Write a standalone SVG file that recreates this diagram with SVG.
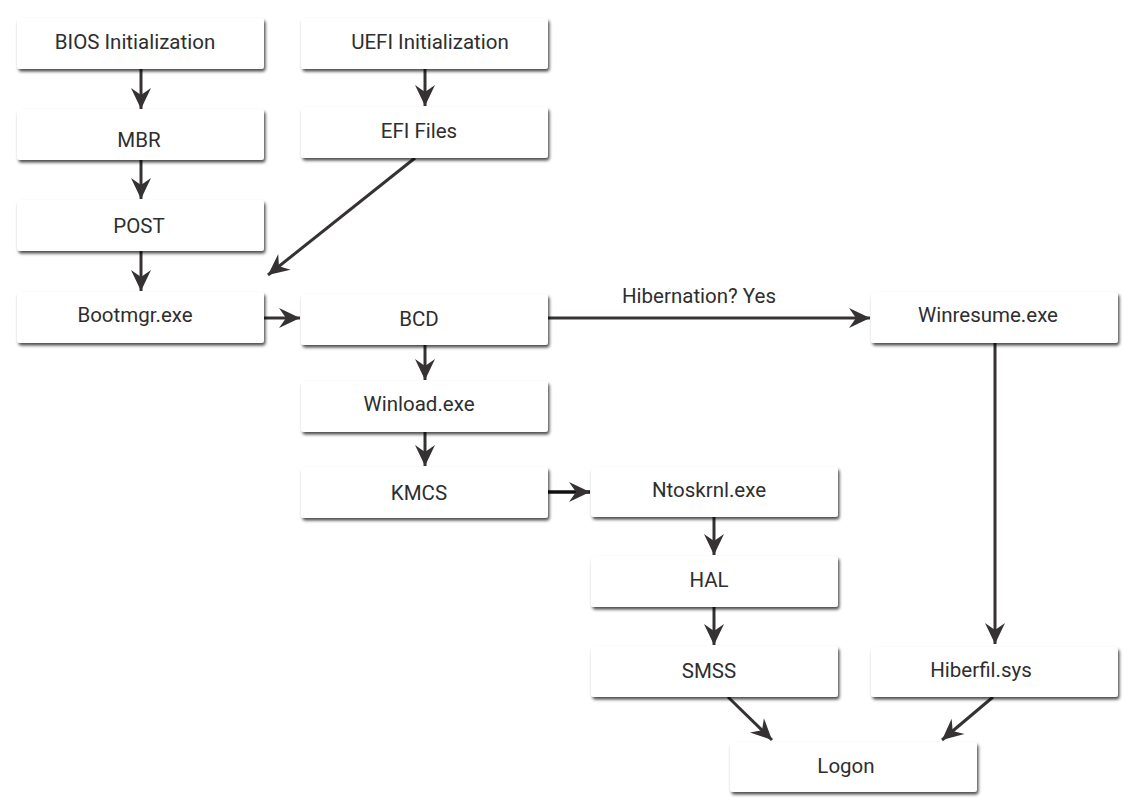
<svg xmlns="http://www.w3.org/2000/svg" width="1136" height="810" viewBox="0 0 1136 810">
  <defs>
    <filter id="shadow" x="-10%" y="-20%" width="120%" height="150%">
      <feDropShadow dx="1.5" dy="2.5" stdDeviation="1.6" flood-color="#000" flood-opacity="0.7"/>
    </filter>
    <marker id="arrow" markerUnits="userSpaceOnUse" markerWidth="24" markerHeight="24" viewBox="-22 -12 24 24" refX="0" refY="0" orient="auto">
      <path d="M0,0 L-21,-10 L-14,0 L-21,10 Z" fill="#363233"/>
    </marker>
  </defs>
  <style>
    .box { fill: #ffffff; filter: url(#shadow); }
    .lbl { font-family: Roboto, "Liberation Sans", sans-serif; font-size: 20.5px; fill: #2e2e2e; text-anchor: middle; }
    .edge { stroke: #363233; stroke-width: 3; fill: none; marker-end: url(#arrow); }
  </style>
  <rect width="1136" height="810" fill="#ffffff"/>

  <g id="connectors">
    <line class="edge" x1="141" y1="69" x2="141" y2="109"/>
    <line class="edge" x1="141" y1="160" x2="141" y2="199"/>
    <line class="edge" x1="141" y1="251" x2="141" y2="291"/>
    <line class="edge" x1="425" y1="69" x2="425" y2="106"/>
    <line class="edge" x1="415" y1="158" x2="268" y2="275"/>
    <line class="edge" x1="264" y1="318" x2="300" y2="318"/>
    <line class="edge" x1="548" y1="318" x2="870" y2="318"/>
    <text class="lbl" x="699" y="303">Hibernation? Yes</text>
    <line class="edge" x1="425" y1="345" x2="425" y2="380"/>
    <line class="edge" x1="425" y1="432" x2="425" y2="466"/>
    <line class="edge" x1="548" y1="492" x2="590" y2="492" style="stroke:#111111;stroke-width:3.5"/>
    <line class="edge" x1="714" y1="517" x2="714" y2="555"/>
    <line class="edge" x1="714" y1="607" x2="714" y2="645"/>
    <line class="edge" x1="995" y1="343" x2="995" y2="644"/>
    <line class="edge" x1="728" y1="697" x2="772" y2="740"/>
    <line class="edge" x1="993" y1="697" x2="942" y2="740"/>
  </g>

  <g id="bios">
    <rect class="box" x="17" y="18" width="247" height="51" rx="3"/>
    <text class="lbl" x="135" y="49">BIOS Initialization</text>
  </g>
  <g id="mbr">
    <rect class="box" x="17" y="109" width="247" height="51" rx="3"/>
    <text class="lbl" x="139" y="147">MBR</text>
  </g>
  <g id="post">
    <rect class="box" x="17" y="200" width="247" height="51" rx="3"/>
    <text class="lbl" x="139" y="233">POST</text>
  </g>
  <g id="bootmgr">
    <rect class="box" x="17" y="292" width="247" height="51" rx="3"/>
    <text class="lbl" x="135" y="322">Bootmgr.exe</text>
  </g>
  <g id="uefi">
    <rect class="box" x="301" y="18" width="247" height="51" rx="3"/>
    <text class="lbl" x="430" y="49">UEFI Initialization</text>
  </g>
  <g id="efi">
    <rect class="box" x="301" y="107" width="247" height="51" rx="3"/>
    <text class="lbl" x="419" y="138">EFI Files</text>
  </g>
  <g id="bcd">
    <rect class="box" x="301" y="294" width="247" height="51" rx="3"/>
    <text class="lbl" x="419" y="326">BCD</text>
  </g>
  <g id="winload">
    <rect class="box" x="301" y="381" width="247" height="51" rx="3"/>
    <text class="lbl" x="419" y="411">Winload.exe</text>
  </g>
  <g id="kmcs">
    <rect class="box" x="301" y="467" width="247" height="51" rx="3"/>
    <text class="lbl" x="419" y="500">KMCS</text>
  </g>
  <g id="ntoskrnl">
    <rect class="box" x="591" y="467" width="247" height="50" rx="3"/>
    <text class="lbl" x="709" y="497">Ntoskrnl.exe</text>
  </g>
  <g id="hal">
    <rect class="box" x="591" y="556" width="247" height="51" rx="3"/>
    <text class="lbl" x="709" y="587">HAL</text>
  </g>
  <g id="smss">
    <rect class="box" x="591" y="646" width="247" height="51" rx="3"/>
    <text class="lbl" x="709" y="678">SMSS</text>
  </g>
  <g id="winresume">
    <rect class="box" x="871" y="292" width="247" height="51" rx="3"/>
    <text class="lbl" x="988" y="322">Winresume.exe</text>
  </g>
  <g id="hiberfil">
    <rect class="box" x="871" y="647" width="247" height="50" rx="3"/>
    <text class="lbl" x="981" y="677">Hiberfil.sys</text>
  </g>
  <g id="logon">
    <rect class="box" x="730" y="742" width="247" height="50" rx="3"/>
    <text class="lbl" x="846" y="773">Logon</text>
  </g>
</svg>
